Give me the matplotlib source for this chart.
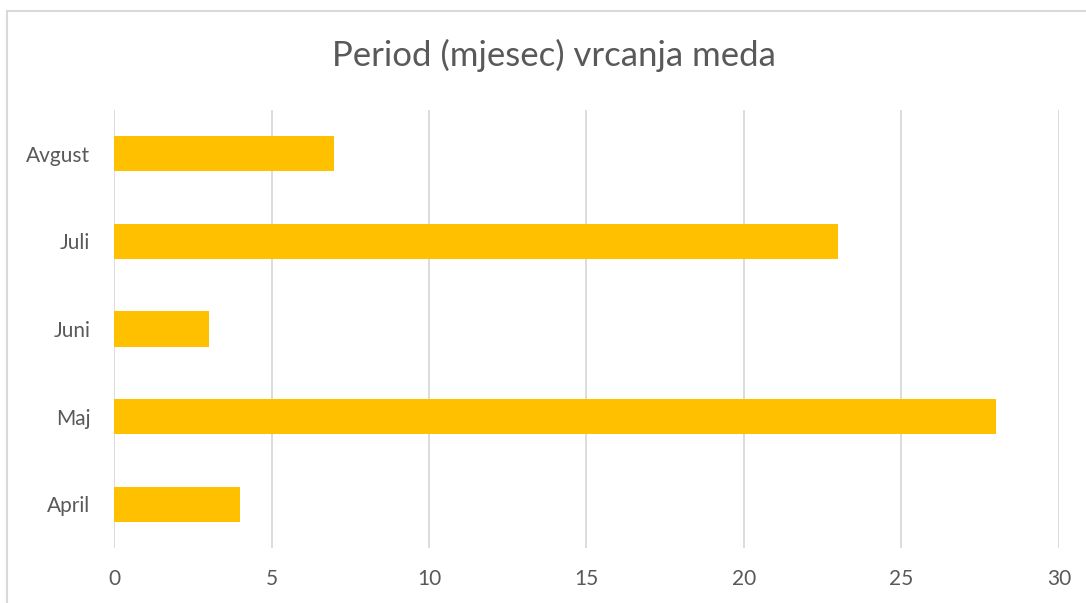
import matplotlib
matplotlib.use("Agg")
import matplotlib.pyplot as plt
from matplotlib.patches import Rectangle

months = ["April", "Maj", "Juni", "Juli", "Avgust"]
values = [4, 28, 3, 23, 7]
x_ticks = [0, 5, 10, 15, 20, 25, 30]

plt.rcParams["font.family"] = ["Lato", "DejaVu Sans"]
text_color = "#595959"
grid_color = "#d9d9d9"

fig = plt.figure(figsize=(10.86, 6.03), dpi=100)
ax = fig.add_axes([0.105, 0.0912, 0.870, 0.7264])

ax.barh(range(len(months)), values, height=0.4, color="#ffc000", zorder=3)
ax.set_xlim(0, 30)
ax.set_ylim(-0.5, len(months) - 0.5)
ax.set_xticks(x_ticks)
ax.set_xticklabels([str(t) for t in x_ticks])
ax.set_yticks(range(len(months)))
ax.set_yticklabels(months)
ax.tick_params(axis="both", length=0, labelsize=15, colors=text_color)
ax.tick_params(axis="x", pad=15)
ax.tick_params(axis="y", pad=17)
ax.grid(axis="x", color=grid_color, linewidth=1.3, zorder=0)
for s in ax.spines.values():
    s.set_visible(False)

fig.text(0.510, 0.908, "Period (mjesec) vrcanja meda", ha="center", va="center",
         fontsize=25, color=text_color, fontweight="normal")

# chart frame
fig.patches.append(Rectangle((7 / 1086, -0.01), 1.02, 1 - 11 / 603 + 0.01,
                             transform=fig.transFigure, fill=False,
                             edgecolor=grid_color, linewidth=1.5))

fig.savefig("out.png", dpi=100)
